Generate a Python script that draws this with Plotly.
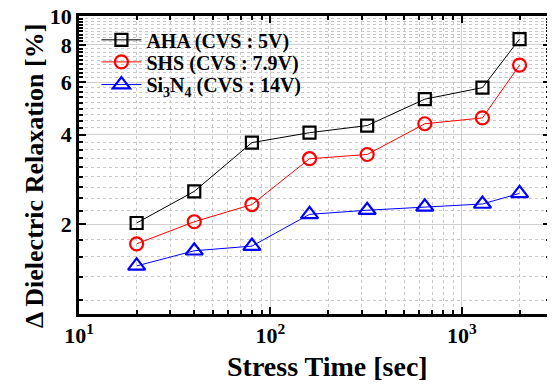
import plotly.graph_objects as go

stress_time = [20, 40, 80, 160, 320, 640, 1280, 2000]
aha = [2.02, 2.58, 3.76, 4.06, 4.29, 5.26, 5.75, 8.37]
shs = [1.72, 2.04, 2.33, 3.32, 3.43, 4.35, 4.55, 6.84]
si3n4 = [1.45, 1.63, 1.69, 2.16, 2.23, 2.29, 2.34, 2.54]

names = ["AHA (CVS : 5V)", "SHS (CVS : 7.9V)", "Si<sub>3</sub>N<sub>4</sub> (CVS : 14V)"]
colors = ["black", "red", "blue"]
symbols = ["square-open", "circle-open", "triangle-up-open"]
sizes = [12, 13, 15]
legend_ids = ["legend", "legend2", "legend3"]
legend_y = [0.92, 0.846, 0.77]

x_tickvals = [10, 100, 1000]
x_ticktext = ["10<sup>1</sup>", "10<sup>2</sup>", "10<sup>3</sup>"]
y_tickvals = [2, 4, 6, 8, 10]
y_ticktext = ["2", "4", "6", "8", "10"]

x_minor = [k * m for m in (10, 100, 1000) for k in range(2, 10) if k * m < 3000]
y_minor = [k * 2 / 9 for k in range(5, 46) if k % 9 != 0]

FONT = "Liberation Serif"

fig = go.Figure()
for ys, n, c, s, sz, lg in zip([aha, shs, si3n4], names, colors, symbols, sizes, legend_ids):
    fig.add_trace(go.Scatter(
        x=stress_time, y=ys, name=n, mode="lines+markers", legend=lg,
        line=dict(color=c, width=1),
        marker=dict(symbol=s, size=sz, color=c, line=dict(width=2.2, color=c)),
    ))

axis_common = dict(
    type="log", showline=True, linecolor="black", linewidth=2.5, mirror="allticks",
    ticks="inside", ticklen=7, tickwidth=2, tickcolor="black",
    showgrid=True, gridcolor="#d0d0d0", gridwidth=1,
    zeroline=False, automargin=False, ticklabeloverflow="allow",
    tickfont=dict(family=FONT, size=22, color="black", weight="bold"),
)

fig.update_xaxes(
    **axis_common, range=[1, 3.46], tickmode="array",
    tickvals=x_tickvals, ticktext=x_ticktext,
    minor=dict(tickmode="array", tickvals=x_minor, ticks="inside", ticklen=4,
               tickwidth=1.5, tickcolor="black", showgrid=True,
               gridcolor="#c8c8c8", griddash="dot", gridwidth=1),
)
fig.update_yaxes(
    **axis_common, range=[0, 1.0001], tickmode="array",
    tickvals=y_tickvals, ticktext=y_ticktext,
    minor=dict(tickmode="array", tickvals=y_minor, ticks="inside", ticklen=4,
               tickwidth=1.5, tickcolor="black", showgrid=True,
               gridcolor="#c8c8c8", griddash="dot", gridwidth=1),
)

fig.add_annotation(
    text="Stress Time [sec]", xref="paper", yref="paper", x=0.527, y=-0.175,
    showarrow=False, font=dict(family=FONT, size=28, color="black", weight="bold"),
    xanchor="center", yanchor="middle",
)
fig.add_annotation(
    text="\u0394 Dielectric Relaxation [%]", xref="paper", yref="paper", x=-0.0955, y=0.463,
    showarrow=False, textangle=-90,
    font=dict(family=FONT, size=26, color="black", weight="bold"),
    xanchor="center", yanchor="middle",
)

legend_style = dict(
    x=0.037, xanchor="left", yanchor="middle",
    bgcolor="rgba(0,0,0,0)", borderwidth=0,
    font=dict(family=FONT, size=20, color="black", weight="bold"),
    itemwidth=40,
)

fig.update_layout(
    width=547, height=377,
    margin=dict(l=71, r=5, t=8, b=71, autoexpand=False),
    paper_bgcolor="white", plot_bgcolor="white",
    showlegend=True,
    legend=dict(**legend_style, y=legend_y[0]),
    legend2=dict(**legend_style, y=legend_y[1]),
    legend3=dict(**legend_style, y=legend_y[2]),
)

fig.write_html("out.html")
